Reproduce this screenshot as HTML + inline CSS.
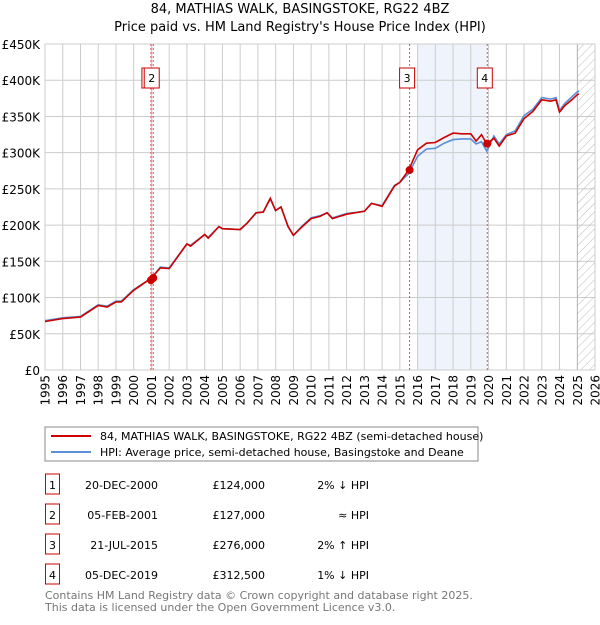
<!DOCTYPE html>
<html><head><meta charset="utf-8"><style>
body{margin:0;width:600px;height:620px;background:#fff;font-family:"Liberation Sans","DejaVu Sans",sans-serif;overflow:hidden}
svg text{font-family:"DejaVu Sans","Liberation Sans",sans-serif}
</style></head><body>
<svg id="c" width="600" height="620" xmlns="http://www.w3.org/2000/svg">
<defs><pattern id="hatch" width="6" height="6" patternUnits="userSpaceOnUse" patternTransform="rotate(45)"><line x1="0" y1="0" x2="0" y2="6" stroke="#bbb" stroke-width="1"/></pattern></defs>
<text x="300" y="13" text-anchor="middle" font-size="13">84, MATHIAS WALK, BASINGSTOKE, RG22 4BZ</text>
<text x="300" y="31" text-anchor="middle" font-size="13">Price paid vs. HM Land Registry's House Price Index (HPI)</text>
<g id="grid"></g><g id="marks"></g>
<rect x="45" y="427" width="433" height="34" fill="#fff" stroke="#888"/>
<line x1="51" y1="436" x2="91" y2="436" stroke="#cc0000" stroke-width="2"/>
<text x="100" y="440" font-size="11">84, MATHIAS WALK, BASINGSTOKE, RG22 4BZ (semi-detached house)</text>
<line x1="51" y1="452" x2="91" y2="452" stroke="#5b8fd6" stroke-width="2"/>
<text x="100" y="456" font-size="11">HPI: Average price, semi-detached house, Basingstoke and Deane</text>
<g id="tbl" font-size="11"></g>
<text x="45" y="599" font-size="11" fill="#777">Contains HM Land Registry data © Crown copyright and database right 2025.</text>
<text x="45" y="611" font-size="11" fill="#777">This data is licensed under the Open Government Licence v3.0.</text>
</svg>
<script>
const years=[1995,1996,1997,1998,1998.5,1999,1999.3,2000,2001,2001.5,2002,2003,2003.2,2004,2004.2,2004.8,2005,2006,2006.4,2006.9,2007.3,2007.7,2008,2008.3,2008.7,2009,2009.5,2010,2010.5,2010.9,2011.2,2012,2013,2013.4,2014,2014.3,2014.7,2015,2015.5,2016,2016.5,2017,2017.5,2018,2018.5,2019,2019.3,2019.6,2019.9,2020.3,2020.6,2021,2021.5,2022,2022.5,2023,2023.5,2023.8,2024,2024.3,2024.7,2025,2025.1];
const price=[67,71,73,89,87,94,94,110,127,141,140,174,171,187,182,198,195,194,203,217,218,237,220,225,198,186,198,209,212,217,209,215,219,230,226,238,254,259,276,304,313,314,321,327,326,326,316,325,312,320,309,323,327,347,357,373,371,373,356,365,373,380,381];
const hpi=[68,72,74,90,88,95,95,111,127,142,141,174,172,187,183,198,195,194,203,217,218,236,220,225,198,186,199,210,213,217,210,216,219,230,227,239,255,259,271,295,305,306,313,318,319,319,312,315,302,323,312,325,330,351,360,376,374,376,358,368,377,384,385];
const ticksY=[0,50,100,150,200,250,300,350,400,450];
const tickLabY=["£0","£50K","£100K","£150K","£200K","£250K","£300K","£350K","£400K","£450K"];
const saleYears=[2000.97,2001.1,2015.55,2019.93];
const saleValues=[124,127,276,312.5];
const saleDates=["20-DEC-2000","05-FEB-2001","21-JUL-2015","05-DEC-2019"];
const salePrices=["£124,000","£127,000","£276,000","£312,500"];
const saleHpi=["2% ↓ HPI","≈ HPI","2% ↑ HPI","1% ↓ HPI"];
const X0=45,X1=595,Y0=370,Y1=44;
const xs=y=>X0+(y-1995)/(2026-1995)*(X1-X0);
const ys=v=>Y0-v/450*(Y0-Y1);
const NS="http://www.w3.org/2000/svg";
function mk(p,t,a){const e=document.createElementNS(NS,t);for(const k in a)e.setAttribute(k,a[k]);p.appendChild(e);return e;}
const g=document.getElementById('grid'),m=document.getElementById('marks');
let r=mk(g,'rect',{x:xs(2016.0),y:Y1,width:xs(saleYears[3])-xs(2016.0),height:Y0-Y1,fill:'#eef3fc'});


r=mk(g,'rect',{x:xs(saleYears[0]),y:Y1,width:xs(saleYears[1])-xs(saleYears[0]),height:Y0-Y1,fill:'#eef3fc'});


for(let yr=1995;yr<=2026;yr++){
 const l=mk(g,'line',{x1:xs(yr),x2:xs(yr),y1:Y1,y2:Y0,stroke:'#ccc','stroke-width':1});
 
 
 const t=mk(g,'text',{x:0,y:0,'text-anchor':'end','font-size':12,transform:`translate(${xs(yr)+4.5},375) rotate(-90)`});
 t.textContent=yr;
 
 
}
ticksY.forEach((v,i)=>{
 const l=mk(g,'line',{x1:X0,x2:X1,y1:ys(v),y2:ys(v),stroke:'#ccc','stroke-width':1});
 
 
 const t=mk(g,'text',{x:40,y:ys(v)+5,'text-anchor':'end','font-size':12});
 t.textContent=tickLabY[i];
 
 
});
r=mk(g,'rect',{x:xs(2025.0),y:Y1,width:X1-xs(2025.0),height:Y0-Y1,fill:'url(#hatch)',stroke:'#999','stroke-width':0.5});


mk(g,'rect',{x:X0,y:Y1,width:X1-X0,height:Y0-Y1,fill:'none',stroke:'#ccc'});
saleYears.forEach((y,i)=>{
 const l=mk(m,'line',{x1:xs(y),x2:xs(y),y1:Y1,y2:Y0,stroke:'#e05050','stroke-width':1,'stroke-dasharray':'2,2'});
 
 
});
const pts=a=>a.map((v,i)=>xs(years[i]).toFixed(1)+','+ys(v).toFixed(1)).join(' ');
let pl=mk(m,'polyline',{points:pts(hpi),fill:'none',stroke:'#5b8fd6','stroke-width':1.6});


pl=mk(m,'polyline',{points:pts(price),fill:'none',stroke:'#cc0000','stroke-width':1.6});


saleYears.forEach((y,i)=>{
 const c=mk(m,'circle',{cx:xs(y),cy:ys(saleValues[i]),r:4,fill:'#cc0000'});
 
 
 const bx=xs(y)-9-(i<2?0:1);
 const b=mk(m,'rect',{x:bx,y:68,width:15,height:20,fill:'#fff',stroke:'#cc0000'});
 
 
 const t=mk(m,'text',{x:bx+7.5,y:82,'text-anchor':'middle','font-size':11});
 t.textContent=i+1;
 
 
});
const tb=document.getElementById('tbl');
saleDates.forEach((d,i)=>{
 const yy=485+i*30;
 const b=mk(tb,'rect',{x:45.5,y:yy-11,width:14,height:20,fill:'#fff',stroke:'#cc0000'});
 
 
 const n=mk(tb,'text',{x:52.5,y:yy+4,'text-anchor':'middle'});n.textContent=i+1;
 
 
 const a=mk(tb,'text',{x:158,y:yy+4,'text-anchor':'end'});a.textContent=d;
 
 
 const p=mk(tb,'text',{x:265,y:yy+4,'text-anchor':'end'});p.textContent=salePrices[i];
 
 
 const h=mk(tb,'text',{x:369,y:yy+4,'text-anchor':'end'});h.textContent=saleHpi[i];
 
 
});
</script>
</body></html>
